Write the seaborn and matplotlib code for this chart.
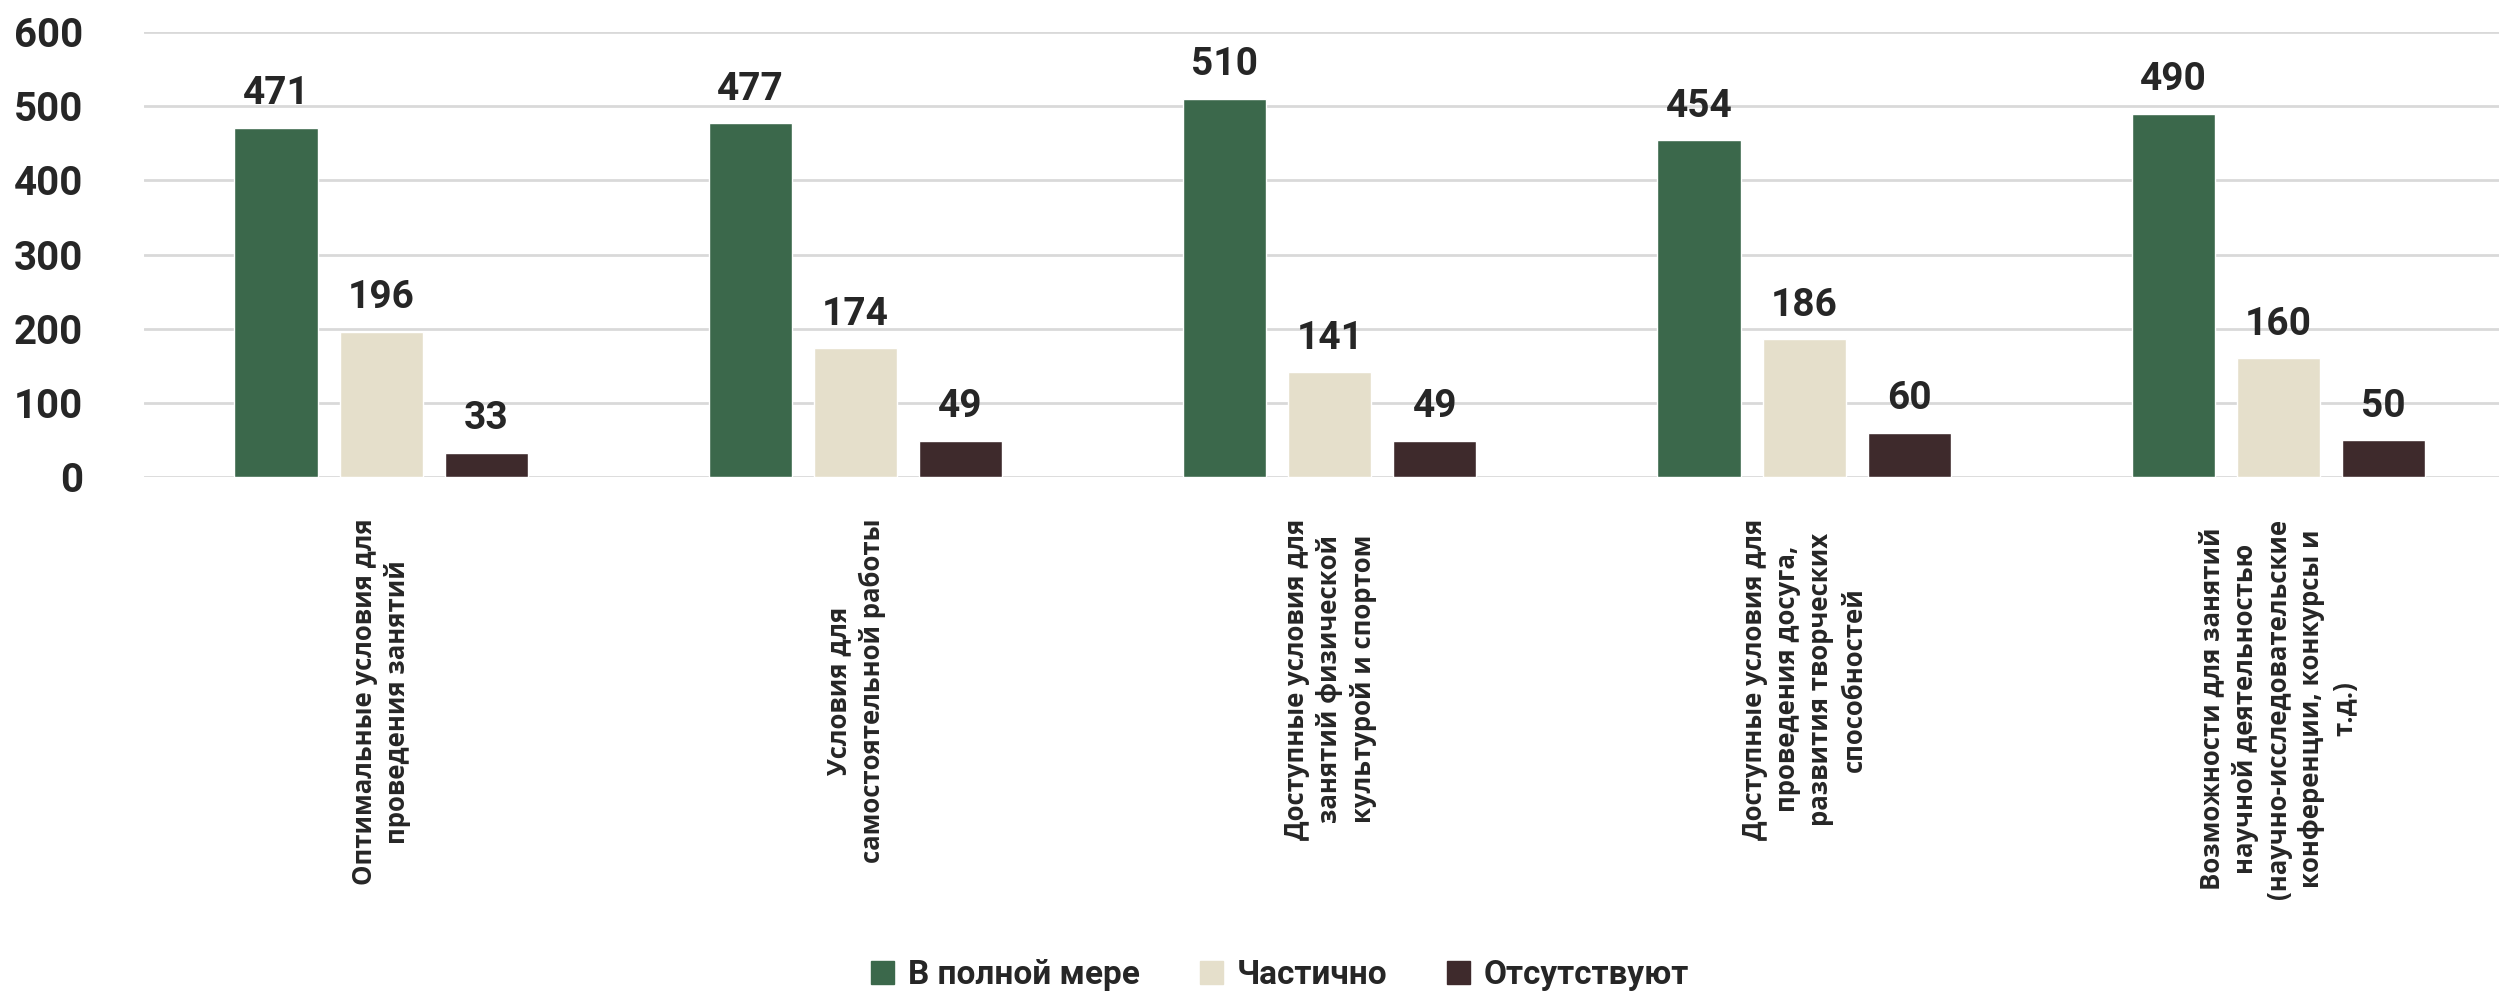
import pandas as pd
import numpy as np
import matplotlib.pyplot as plt
import seaborn as sns

# Data
categories = [
    "Оптимальные условия для\nпроведения занятий",
    "Условия для\nсамостоятельной работы",
    "Доступные условия для\nзанятий физической\nкультурой и спортом",
    "Доступные условия для\nпроведения досуга,\nразвития творческих\nспособностей",
    "Возможности для занятий\nнаучной деятельностью\n(научно-исследовательские\nконференции, конкурсы и\nт.д.)",
]
series = ["В полной мере", "Частично", "Отсутствуют"]
full_vals = [471, 477, 510, 454, 490]
partial_vals = [196, 174, 141, 186, 160]
absent_vals = [33, 49, 49, 60, 50]
colors = ["#3B684B", "#E5DFCB", "#3E2A2C"]

rows = []
for name, vals in zip(series, [full_vals, partial_vals, absent_vals]):
    for cat, v in zip(categories, vals):
        rows.append({"Категория": cat, "Ответ": name, "Значение": v})
df = pd.DataFrame(rows)

sns.set_style("white")
plt.rcParams['font.family'] = ['Roboto', 'DejaVu Sans']

fig = plt.figure(figsize=(24.99, 9.97), dpi=100)
ax = fig.add_axes([144 / 2499, 1 - 477 / 997, 1 - 144 / 2499, (477 - 32) / 997])

sns.barplot(data=df, x="Категория", y="Значение", hue="Ответ", hue_order=series,
            palette=colors, width=0.665, gap=0.21, saturation=1, legend=False, ax=ax)

for cont in ax.containers:
    ax.bar_label(cont, padding=11, fontsize=28, fontweight='bold')

ax.set_ylim(0, 600)
ax.set_xlim(-0.5, 4.465)
ax.set_yticks(range(0, 601, 100))
ax.yaxis.grid(True, color='#D9D9D9', linewidth=2)
ax.set_axisbelow(True)
for s in ax.spines.values():
    s.set_visible(False)
ax.set_xlabel("")
ax.set_ylabel("")
ax.tick_params(axis='y', length=0, pad=44, labelsize=29)
ax.tick_params(axis='x', length=0, pad=30)
for lab in ax.get_yticklabels():
    lab.set_fontweight('bold')
ax.set_xticks(range(len(categories)))
ax.set_xticklabels(categories, rotation=90, fontsize=18.5, fontweight='bold',
                   family=['Open Sans', 'DejaVu Sans'],
                   ha='center', va='top', multialignment='center', linespacing=1.3)

handles = [plt.Rectangle((0, 0), 1, 1, color=c) for c in colors]
fig.legend(handles, series, loc='center', bbox_to_anchor=(1280 / 2499, 1 - 975 / 997),
           ncol=3, frameon=False, prop={'size': 24, 'weight': 'bold'},
           handlelength=0.7, handleheight=0.7, handletextpad=0.4, columnspacing=1.8)

fig.savefig("out.png", dpi=100)
